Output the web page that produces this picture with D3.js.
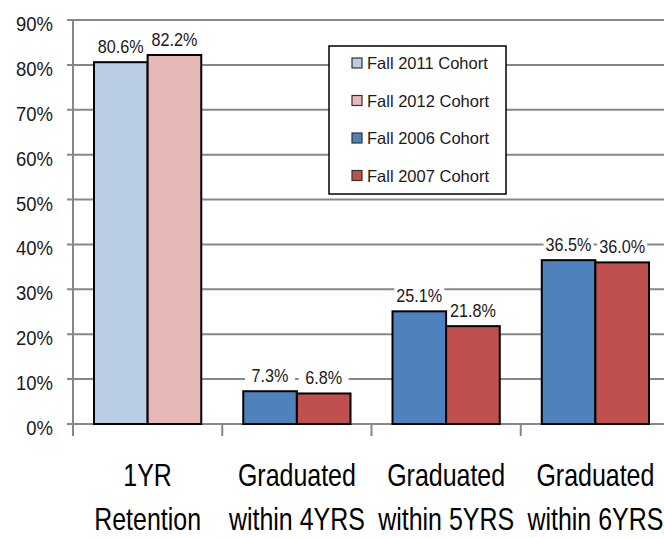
<!DOCTYPE html>
<html>
<head>
<meta charset="utf-8">
<script src="https://cdn.jsdelivr.net/npm/d3@7"></script>
<style>
  html, body { margin: 0; padding: 0; background: #fff; overflow: hidden; }
  svg { display: block; }
</style>
</head>
<body>
<div class="js-chart"></div>
<script>
let w = 664;
let h = 538;

// data
let categories = [['1YR', 'Retention'], ['Graduated', 'within 4YRS'], ['Graduated', 'within 5YRS'], ['Graduated', 'within 6YRS']];
let seriesA = [80.6, 7.3, 25.1, 36.5];   // Fall 2011 (first group) / Fall 2006
let seriesB = [82.2, 6.8, 21.8, 36.0];   // Fall 2012 (first group) / Fall 2007
let yTicks = [0, 10, 20, 30, 40, 50, 60, 70, 80, 90];
let legendLabels = ['Fall 2011 Cohort', 'Fall 2012 Cohort', 'Fall 2006 Cohort', 'Fall 2007 Cohort'];
let legendColors = ['#b9cde5', '#e6b9b8', '#4f81bd', '#c0504d'];

let plotLeft = 73, plotRight = 670, plotTop = 20, plotBottom = 424;

let svg = d3.select('.js-chart').append('svg').attr('width', w).attr('height', h);

let x0 = d3.scaleBand().domain(d3.range(categories.length)).range([plotLeft, plotRight]).padding(0);
let x1 = d3.scaleBand().domain([0, 1]).range([21, x0.bandwidth() - 21]).padding(0);
let y = d3.scaleLinear().domain([0, 90]).range([plotBottom, plotTop]);

// gridlines
svg.append('g').selectAll('line').data(yTicks).join('line')
  .attr('x1', plotLeft - 6).attr('x2', w)
  .attr('y1', d => y(d)).attr('y2', d => y(d))
  .style('stroke', '#878787').style('stroke-width', 2);

// y axis line
svg.append('line').attr('x1', plotLeft).attr('x2', plotLeft).attr('y1', plotTop).attr('y2', plotBottom + 12)
  .style('stroke', '#878787').style('stroke-width', 2);

// category separator ticks
svg.append('g').selectAll('line').data(d3.range(1, categories.length)).join('line')
  .attr('x1', d => x0(d)).attr('x2', d => x0(d))
  .attr('y1', plotBottom).attr('y2', plotBottom + 12)
  .style('stroke', '#878787').style('stroke-width', 2);

// y labels
svg.append('g').selectAll('text').data(yTicks).join('text')
  .attr('transform', d => `translate(53,${y(d) + 11}) scale(0.88,1)`)
  .attr('text-anchor', 'end')
  .style('font-family', '"Liberation Sans", Arial, sans-serif')
  .style('font-size', '21px').style('fill', '#1a1a1a')
  .text(d => d + '%');

// bars
let groups = svg.append('g').selectAll('g').data(categories.map((c, i) => i)).join('g')
  .attr('transform', i => `translate(${x0(i)},0)`);

let barData = i => [
  {s: 0, v: seriesA[i], color: i === 0 ? legendColors[0] : legendColors[2]},
  {s: 1, v: seriesB[i], color: i === 0 ? legendColors[1] : legendColors[3]}
];

groups.selectAll('rect').data(barData).join('rect')
  .attr('x', d => x1(d.s)).attr('width', x1.bandwidth())
  .attr('y', d => y(d.v)).attr('height', d => plotBottom - y(d.v))
  .style('fill', d => d.color)
  .style('stroke', '#000').style('stroke-width', 2);

// value labels with white boxes over the gridlines
let labels = groups.selectAll('g.lbl').data(barData).join('g').attr('class', 'lbl');
labels.append('rect')
  .attr('x', d => x1(d.s) + x1.bandwidth() / 2 - 25)
  .attr('y', d => y(d.v) - 27).attr('width', 50).attr('height', 18)
  .style('fill', '#fff');
labels.append('text')
  .attr('transform', d => `translate(${x1(d.s) + x1.bandwidth() / 2},${y(d.v) - 9}) scale(0.9,1)`)
  .attr('text-anchor', 'middle')
  .style('font-family', '"Liberation Sans", Arial, sans-serif')
  .style('font-size', '18px').style('fill', '#1a1a1a')
  .text(d => d.v.toFixed(1) + '%');

// x labels, squeezed to the narrow face of the original
let xl = svg.append('g').selectAll('text').data(categories).join('text')
  .attr('transform', (d, i) => `translate(${x0(i) + x0.bandwidth() / 2},0) scale(0.78,1)`)
  .attr('text-anchor', 'middle')
  .style('font-family', '"Liberation Sans", Arial, sans-serif')
  .style('font-size', '32px').style('fill', '#000');
xl.append('tspan').attr('x', 0).attr('y', 486).text(d => d[0]);
xl.append('tspan').attr('x', 0).attr('y', 530).text(d => d[1]);

// legend
let legend = svg.append('g').attr('transform', 'translate(329,46)');
legend.append('rect').attr('width', 177).attr('height', 148)
  .style('fill', '#fff').style('stroke', '#000').style('stroke-width', 1.5);
let items = legend.selectAll('g').data(legendLabels).join('g')
  .attr('transform', (d, i) => `translate(0,${17 + i * 37.5})`);
items.append('rect').attr('x', 23).attr('y', -5).attr('width', 10).attr('height', 10)
  .style('fill', (d, i) => legendColors[i]).style('stroke', '#333').style('stroke-width', 1.2);
items.append('text').attr('x', 38).attr('y', 6)
  .style('font-family', '"Liberation Sans", Arial, sans-serif')
  .style('font-size', '16.5px').style('fill', '#1a1a1a')
  .text(d => d);
</script>
</body>
</html>
